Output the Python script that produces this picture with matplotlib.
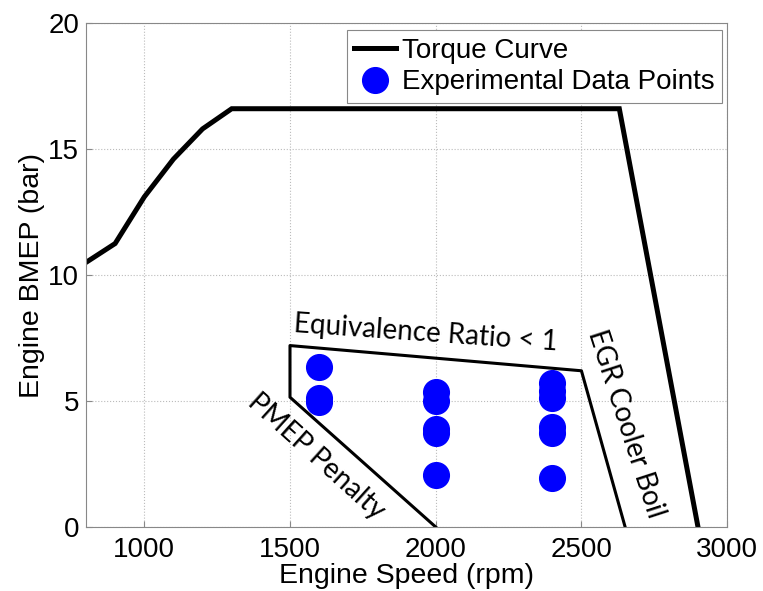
import numpy as np
import matplotlib
matplotlib.use("Agg")
import matplotlib.pyplot as plt

plt.rcParams['font.family'] = ['Liberation Sans', 'DejaVu Sans']

# torque curve (rpm, bar)
torque_rpm = [800, 900, 1000, 1100, 1200, 1300, 2630, 2900]
torque_bmep = [10.5, 11.25, 13.1, 14.6, 15.8, 16.6, 16.6, 0.0]

# operating boundary
bound_rpm = [2000, 1500, 1500, 2500, 2650]
bound_bmep = [0.0, 5.15, 7.2, 6.2, 0.0]

# experimental points
exp_rpm = [1600, 1600, 1600, 2000, 2000, 2000, 2000, 2000,
           2400, 2400, 2400, 2400, 2400, 2400]
exp_bmep = [6.35, 5.1, 4.95, 5.35, 5.0, 3.9, 3.75, 2.05,
            5.7, 5.4, 5.1, 3.95, 3.75, 1.95]

fig = plt.figure(figsize=(7.63, 5.91), dpi=100)
ax = fig.add_axes([0.1127, 0.1083, 0.8403, 0.8527])

ax.plot(torque_rpm, torque_bmep, color='black', lw=3.6, label='Torque Curve',
        solid_joinstyle='miter')
ax.plot(exp_rpm, exp_bmep, 'o', color='blue', ms=18.5, mec='blue',
        label='Experimental Data Points')
ax.plot(bound_rpm, bound_bmep, color='black', lw=2.2)

ax.set_xlim(800, 3000)
ax.set_ylim(0, 20)
ax.set_xticks([1000, 1500, 2000, 2500, 3000])
ax.set_yticks([0, 5, 10, 15, 20])
ax.tick_params(labelsize=20, direction='in', length=4, color='#888888', pad=5)
ax.tick_params(axis='x', pad=7)
ax.grid(True, linestyle=':', color='#bbbbbb', lw=0.8)
for s in ax.spines.values():
    s.set_color('#888888')

ax.set_xlabel('Engine Speed (rpm)', fontsize=20.5, labelpad=0)
ax.set_ylabel('Engine BMEP (bar)', fontsize=20.5, labelpad=2)

leg = ax.legend(loc='upper right', fontsize=20, fancybox=False,
                edgecolor='#888888', framealpha=1, handlelength=1.5,
                handletextpad=0.2, borderpad=0.28, labelspacing=0.2,
                borderaxespad=0, bbox_to_anchor=(0.992, 0.986))
leg.get_frame().set_linewidth(0.8)

tf = ['Lato', 'DejaVu Sans']
ax.text(1965, 7.7, 'Equivalence Ratio < 1', fontsize=20, family=tf,
        rotation=-4, ha='center', va='center')
ax.text(1590, 2.8, 'PMEP Penalty', fontsize=20, family=tf,
        rotation=-42, ha='center', va='center')
ax.text(2652, 4.1, 'EGR Cooler Boil', fontsize=20, family=tf,
        rotation=-72, ha='center', va='center')

fig.savefig('out.png', dpi=100)
